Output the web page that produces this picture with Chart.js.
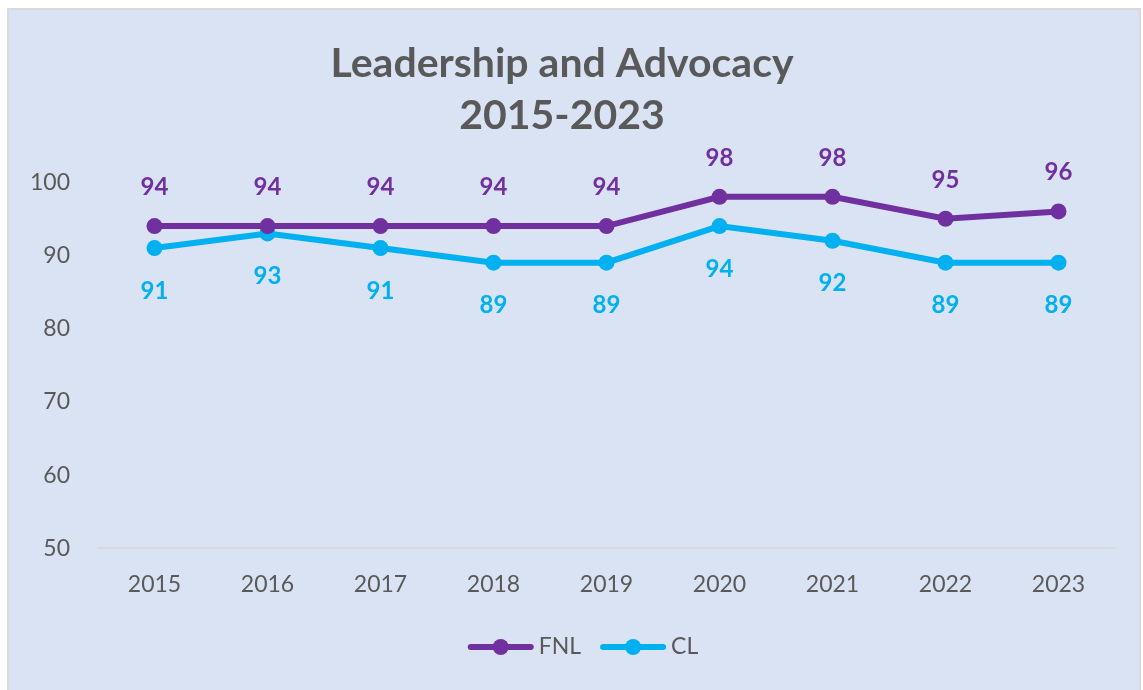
<!DOCTYPE html>
<html>
<head>
<meta charset="utf-8">
<script src="https://cdn.jsdelivr.net/npm/chart.js@4.4.0/dist/chart.umd.min.js"></script>
<style>
    html, body { margin: 0; padding: 0; background: #ffffff; }
    #wrap {
        position: absolute;
        left: 7px;
        top: 8px;
        width: 1130px;
        height: 682px;
        border: 2px solid #d9d9d9;
        border-bottom: none;
        background: #dae3f3;
    }
</style>
</head>
<body>
<div id="wrap"><canvas id="leadershipChart" width="1130" height="682"></canvas></div>
<script>
// Chart data
const years = ['2015', '2016', '2017', '2018', '2019', '2020', '2021', '2022', '2023'];
const fnlScores = [94, 94, 94, 94, 94, 98, 98, 95, 96];
const clScores = [91, 93, 91, 89, 89, 94, 92, 89, 89];
const yTicks = [50, 60, 70, 80, 90, 100];

const PURPLE = '#7030a0';
const BLUE = '#00b0f0';
const GREY = '#595959';
const FONT = 'Lato, "Liberation Sans", sans-serif';

// Value labels above (FNL) and below (CL) each point
const valueLabels = {
    id: 'valueLabels',
    afterDatasetsDraw(chart) {
        const ctx = chart.ctx;
        ctx.save();
        ctx.font = 'bold 24px ' + FONT;
        ctx.textAlign = 'center';
        ctx.textBaseline = 'middle';
        chart.data.datasets.forEach((ds, i) => {
            const meta = chart.getDatasetMeta(i);
            ctx.fillStyle = ds.borderColor;
            meta.data.forEach((pt, j) => {
                const dy = i === 0 ? -39 : 43;
                ctx.fillText(String(ds.data[j]), pt.x, pt.y + dy);
            });
        });
        ctx.restore();
    }
};

// Excel-style legend: line with a dot, then the series name
const bottomLegend = {
    id: 'bottomLegend',
    afterDraw(chart) {
        const ctx = chart.ctx;
        const markerW = 66, textGap = 5, itemGap = 19;
        ctx.save();
        ctx.font = '23px ' + FONT;
        ctx.textBaseline = 'middle';
        const items = chart.data.datasets.map(ds => ({
            ds: ds,
            w: markerW + textGap + ctx.measureText(ds.label).width
        }));
        const total = items.reduce((s, it) => s + it.w, 0) + itemGap * (items.length - 1);
        let x = chart.width / 2 + 9 - total / 2;
        const y = chart.height - 45;
        items.forEach(it => {
            const color = it.ds.borderColor;
            ctx.strokeStyle = color;
            ctx.lineWidth = 6;
            ctx.lineCap = 'round';
            ctx.beginPath();
            ctx.moveTo(x + 3, y);
            ctx.lineTo(x + markerW - 3, y);
            ctx.stroke();
            ctx.fillStyle = color;
            ctx.beginPath();
            ctx.arc(x + markerW / 2, y, 8, 0, Math.PI * 2);
            ctx.fill();
            ctx.fillStyle = GREY;
            ctx.fillText(it.ds.label, x + markerW + textGap, y);
            x += it.w + itemGap;
        });
        ctx.restore();
    }
};

const ctx = document.getElementById('leadershipChart');
new Chart(ctx, {
    type: 'line',
    data: {
        labels: years,
        datasets: [{
            label: 'FNL',
            data: fnlScores,
            borderColor: PURPLE,
            backgroundColor: PURPLE,
            borderWidth: 6,
            pointRadius: 8,
            pointBackgroundColor: PURPLE,
            pointBorderWidth: 0,
            tension: 0
        }, {
            label: 'CL',
            data: clScores,
            borderColor: BLUE,
            backgroundColor: BLUE,
            borderWidth: 6,
            pointRadius: 8,
            pointBackgroundColor: BLUE,
            pointBorderWidth: 0,
            tension: 0
        }]
    },
    options: {
        responsive: false,
        animation: false,
        layout: {
            padding: { left: 0, right: 24, top: 28, bottom: 72 }
        },
        plugins: {
            title: {
                display: true,
                text: ['Leadership and Advocacy', '2015-2023'],
                color: GREY,
                font: { family: FONT, size: 41, weight: 'bold', lineHeight: 1.27 },
                padding: { top: 0, bottom: 40 }
            },
            legend: { display: false },
            tooltip: { enabled: false }
        },
        scales: {
            y: {
                min: 50,
                max: 100,
                afterBuildTicks(axis) {
                    axis.ticks = yTicks.map(v => ({ value: v }));
                },
                afterFit(axis) {
                    axis.width = 89;
                },
                grid: { display: false, drawTicks: false },
                border: { display: false },
                ticks: {
                    color: GREY,
                    font: { family: FONT, size: 23 },
                    padding: 28
                }
            },
            x: {
                offset: true,
                grid: { display: false, drawTicks: false },
                border: { display: true, color: '#d9d9d9', width: 2 },
                ticks: {
                    color: GREY,
                    font: { family: FONT, size: 23 },
                    padding: 22
                }
            }
        }
    },
    plugins: [valueLabels, bottomLegend]
});
</script>
</body>
</html>
